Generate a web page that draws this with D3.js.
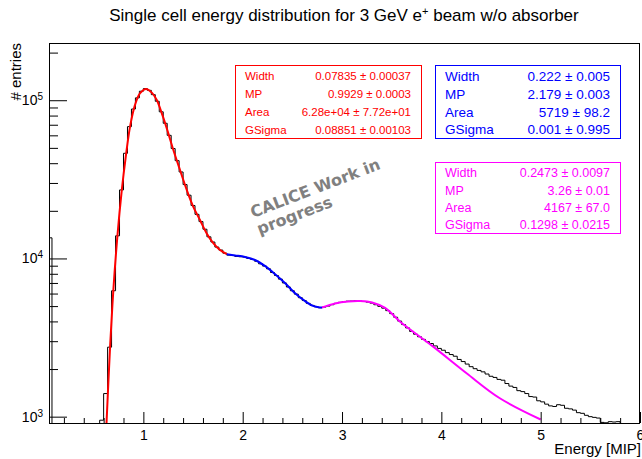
<!DOCTYPE html>
<html>
<head>
<meta charset="utf-8">
<script src="https://cdn.jsdelivr.net/npm/d3@7"></script>
<style>
  body { margin: 0; background: #fff; }
  svg { display: block; font-family: "Liberation Sans", Arial, sans-serif; }
  .tick line { stroke: #000; }
</style>
</head>
<body>
<svg id="chart" width="642" height="459"></svg>
<script>
// histogram: 150 bins of 0.04 MIP from 0 to 6
var binWidth = 0.04;
var counts = [
  0, 13500, 0, 0, 0, 0, 0, 0, 0, 0, 0, 0, 0, 0,
  950, 1400, 2750, 6250, 13900, 27100, 46200, 68100, 88000, 103500,
  114000, 118500, 115500, 108500, 98500, 84500, 71500, 60000, 49500, 41500,
  35200, 29300, 25100, 21600, 19000, 17100, 15300, 13700, 12700, 11800,
  11300, 10800, 10500, 10450, 10300, 10250, 10200, 10000, 9850, 9600,
  9250, 8950, 8600, 8150, 7800, 7400, 7000, 6600, 6250, 5950,
  5650, 5420, 5200, 5050, 4950, 4880, 4930, 5000, 5100, 5200,
  5280, 5330, 5370, 5380, 5400, 5380, 5350, 5300, 5220, 5100,
  4980, 4850, 4680, 4480, 4250, 4020, 3820, 3640, 3460, 3320,
  3200, 3080, 2980, 2900, 2800, 2700, 2630, 2540, 2470, 2410,
  2300, 2230, 2150, 2070, 2010, 1960, 1920, 1860, 1800, 1770,
  1720, 1700, 1620, 1560, 1530, 1460, 1440, 1400, 1340, 1330,
  1260, 1240, 1200, 1170, 1160, 1190, 1180, 1130, 1120, 1100,
  1060, 1050, 1020, 1000, 990, 980, 920, 915, 930, 925,
  930, 0, 0, 0, 0, 0
];

// fit curves
var redX = [0.628, 0.665, 0.698, 0.738, 0.783, 0.823, 0.866, 0.916, 0.967, 1.027, 1.085, 1.135, 1.185, 1.235, 1.302, 1.369, 1.437, 1.503, 1.570, 1.638, 1.704, 1.772, 1.84];
var redY = [880, 2770, 6320, 13700, 27100, 44000, 68100, 93400, 110700, 117900, 111700, 100400, 82800, 66600, 48500, 36200, 27100, 21200, 17500, 14400, 12500, 11300, 10640];
var blueX = [1.84, 1.923, 2.023, 2.124, 2.223, 2.324, 2.425, 2.525, 2.625, 2.708, 2.778, 2.80];
var blueY = [10640, 10450, 10220, 9780, 8970, 7980, 7000, 6050, 5390, 5010, 4900, 4900];
var magX = [2.80, 2.93, 3.061, 3.182, 3.303, 3.434, 3.585, 3.918, 4.254, 4.589, 5.0];
var magY = [4900, 5195, 5350, 5385, 5270, 4865, 3986, 2770, 1881, 1307, 960];

var xMajor = [1, 2, 3, 4, 5, 6];
var yMajor = [1e3, 1e4, 1e5];

var parNames = ["Width", "MP", "Area", "GSigma"];
var redVals = ["0.07835 \u00b1 0.00037", "0.9929 \u00b1 0.0003", "6.28e+04 \u00b1 7.72e+01", "0.08851 \u00b1 0.00103"];
var blueVals = ["0.222 \u00b1 0.005", "2.179 \u00b1 0.003", "5719 \u00b1 98.2", "0.001 \u00b1 0.995"];
var magVals = ["0.2473 \u00b1 0.0097", "3.26 \u00b1 0.01", "4167 \u00b1 67.0", "0.1298 \u00b1 0.0215"];

var frame = {left: 49, top: 43, right: 640, bottom: 423};
var svg = d3.select("#chart");

var x = d3.scaleLinear().domain([0.05, 6]).range([frame.left, frame.right]);
var y = d3.scaleLog().domain([912, 230000]).range([frame.bottom, frame.top]);

svg.append("defs").append("clipPath").attr("id", "plotclip")
  .append("rect")
  .attr("x", frame.left).attr("y", frame.top)
  .attr("width", frame.right - frame.left).attr("height", frame.bottom - frame.top);

// title
svg.append("text")
  .attr("x", 344).attr("y", 21)
  .attr("text-anchor", "middle")
  .style("font-size", "17px")
  .html('Single cell energy distribution for 3 GeV e<tspan dy="-6" style="font-size:11px">+</tspan><tspan dy="6"> beam w/o absorber</tspan>');

// histogram as steps
var yMin = y.domain()[0];
var histPts = [];
counts.forEach(function(c, i) {
  var v = Math.max(c, yMin * 0.98);
  histPts.push([i * binWidth, v]);
  histPts.push([(i + 1) * binWidth, v]);
});
var plot = svg.append("g").attr("clip-path", "url(#plotclip)");
plot.append("path")
  .attr("d", d3.line().x(function(d){ return x(d[0]); }).y(function(d){ return y(d[1]); })(histPts))
  .attr("fill", "none").attr("stroke", "#000").attr("stroke-width", 1);

function drawFit(xs, ys, color) {
  var pts = xs.map(function(v, i){ return [v, ys[i]]; });
  plot.append("path")
    .attr("d", d3.line().curve(d3.curveCatmullRom)
      .x(function(d){ return x(d[0]); }).y(function(d){ return y(d[1]); })(pts))
    .attr("fill", "none").attr("stroke", color).attr("stroke-width", 2);
}
drawFit(redX, redY, "#ff0000");
drawFit(blueX, blueY, "#0000ff");
drawFit(magX, magY, "#ff00ff");

// axes
var xMinor = d3.range(1, 30).map(function(i){ return i * 0.2; }).filter(function(v){ return Math.abs(v - Math.round(v)) > 0.01; });
svg.append("g").attr("transform", "translate(0," + frame.bottom + ")")
  .call(d3.axisBottom(x).tickValues(xMinor).tickSize(-5).tickFormat(""))
  .call(function(g){ g.select(".domain").remove(); });
svg.append("g").attr("transform", "translate(0," + frame.bottom + ")")
  .call(d3.axisBottom(x).tickValues(xMajor).tickSize(-11).tickPadding(7).tickFormat(d3.format("d")))
  .call(function(g){
    g.select(".domain").remove();
    g.selectAll("text").style("font-size", "14px").style("font-family", "Liberation Sans, Arial, sans-serif");
  });

var yMinor = [];
[1e3, 1e4, 1e5].forEach(function(dec){
  for (var k = 2; k <= 9; k++) { if (dec * k < 230000) yMinor.push(dec * k); }
});
svg.append("g").attr("transform", "translate(" + frame.left + ",0)")
  .call(d3.axisLeft(y).tickValues(yMinor).tickSize(-9).tickFormat(""))
  .call(function(g){ g.select(".domain").remove(); });
svg.append("g").attr("transform", "translate(" + frame.left + ",0)")
  .call(d3.axisLeft(y).tickValues(yMajor).tickSize(-18).tickPadding(6))
  .call(function(g){
    g.select(".domain").remove();
    g.selectAll("text").text(null)
      .style("font-size", "14px").style("font-family", "Liberation Sans, Arial, sans-serif")
      .each(function(d){
        var t = d3.select(this);
        t.append("tspan").text("10");
        t.append("tspan").attr("dy", "-0.5em").style("font-size", "10px").text(Math.round(Math.log10(d)));
      });
  });

// frame
svg.append("rect")
  .attr("x", frame.left + 0.5).attr("y", frame.top + 0.5)
  .attr("width", frame.right - frame.left - 1).attr("height", frame.bottom - frame.top)
  .attr("fill", "none").attr("stroke", "#000").attr("stroke-width", 1);

// axis titles
svg.append("text")
  .attr("x", 641).attr("y", 454)
  .attr("text-anchor", "end")
  .style("font-size", "15px")
  .text("Energy [MIP]");
svg.append("text")
  .attr("transform", "translate(21,43) rotate(-90)")
  .attr("text-anchor", "end")
  .style("font-size", "15px")
  .text("# entries");

// fit parameter boxes
function drawBox(box, vals, color, fontSize, rows) {
  var g = svg.append("g");
  g.append("rect")
    .attr("x", box.x + 0.5).attr("y", box.y + 0.5).attr("width", box.w).attr("height", box.h)
    .attr("fill", "#fff").attr("stroke", color).attr("stroke-width", 1);
  parNames.forEach(function(n, i){
    g.append("text").attr("x", box.x + 10).attr("y", rows[i])
      .attr("fill", color).style("font-size", fontSize + "px").text(n);
    g.append("text").attr("x", box.x + box.w - 10).attr("y", rows[i])
      .attr("text-anchor", "end")
      .attr("fill", color).style("font-size", fontSize + "px").text(vals[i]);
  });
}
drawBox({x: 235, y: 65, w: 186, h: 73}, redVals, "#ff0000", 11.5, [80, 98, 116, 133.5]);
drawBox({x: 435, y: 65, w: 185, h: 73}, blueVals, "#0000ff", 13.5, [81, 99, 116.5, 134]);
drawBox({x: 435, y: 162, w: 185, h: 71}, magVals, "#ff00ff", 12.5, [177, 195, 211.5, 228.5]);

// preliminary label
var cal = svg.append("text")
  .attr("transform", "translate(253,218) rotate(-21)")
  .attr("fill", "#808080")
  .style("font-family", "DejaVu Sans, sans-serif")
  .style("font-weight", "bold")
  .style("font-size", "16px");
cal.append("tspan").attr("x", 0).attr("y", 0).text("CALICE Work in");
cal.append("tspan").attr("x", 0).attr("y", 18).text("progress");
</script>
</body>
</html>
